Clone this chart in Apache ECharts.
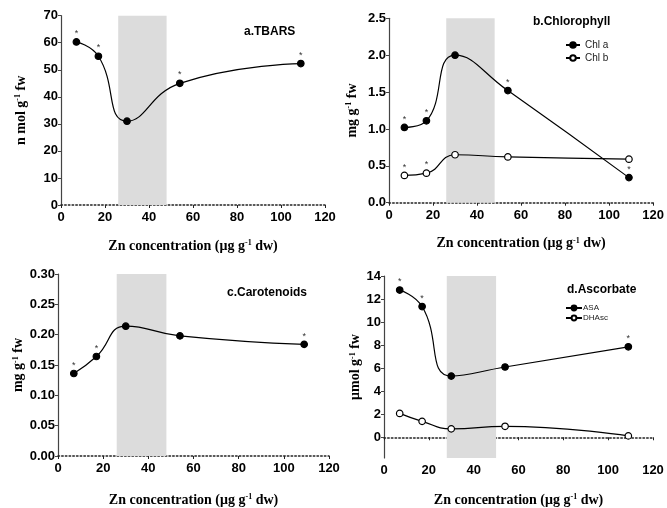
<!DOCTYPE html>
<html>
<head>
<meta charset="utf-8">
<script src="https://cdn.jsdelivr.net/npm/echarts@6/dist/echarts.min.js"></script>
<style>
html,body{margin:0;padding:0;background:#fff;}
#main{width:667px;height:508px;}
</style>
</head>
<body>
<div id="main"></div>
<script>
// Zn concentration in tissue (x of every panel)
var zn = [7, 17, 30, 54, 109];
// a. TBARS
var tbars = [60.3, 55, 31, 45, 52.3];
var tbarsStar = [1, 1, 0, 1, 1];
// b. Chlorophyll
var chlA = [1.02, 1.11, 2.0, 1.52, 0.34];
var chlAStar = [1, 1, 0, 1, 1];
var chlB = [0.37, 0.40, 0.65, 0.62, 0.59];
var chlBStar = [1, 1, 0, 0, 0];
// c. Carotenoids
var carot = [0.136, 0.164, 0.214, 0.198, 0.184];
var carotStar = [1, 1, 0, 0, 1];
// d. Ascorbate
var asa = [12.78, 11.35, 5.31, 6.1, 7.85];
var asaStar = [1, 1, 0, 0, 1];
var dhasc = [2.07, 1.38, 0.73, 0.95, 0.12];
var dhascStar = [0, 0, 0, 0, 0];
// shaded ranges
var bandA = [26, 48];
var bandB = [26, 48];
var bandC = [26, 48];
var bandD = [28, 50];
var ticksD = [0, 2, 4, 6, 8, 10, 12, 14];

function pts(ys){
    var out = [];
    for(var i=0;i<zn.length;i++){ out.push([zn[i], ys[i]]); }
    return out;
}

var chart = echarts.init(document.getElementById('main'));

var sansBold = {fontFamily:'Liberation Sans, Arial, sans-serif', fontWeight:'bold', fontSize:12, color:'#000'};
var tickFont = {fontFamily:'Liberation Sans, Arial, sans-serif', fontWeight:'bold', fontSize:13, color:'#000'};
var axisNameStyle = {
    fontFamily:'Liberation Serif, Times New Roman, serif', fontWeight:'bold', fontSize:14, color:'#000',
    rich:{
        sup:{fontFamily:'Liberation Serif, serif', fontWeight:'bold', fontSize:8, verticalAlign:'top', lineHeight:14, color:'#000'}
    }
};

function xAxisOf(grid, gap){
    return {
        type:'value', gridIndex:grid, min:0, max:120, interval:20,
        name:'Zn concentration (μg g{sup|-1} dw)', nameLocation:'middle', nameGap:gap,
        nameTextStyle:axisNameStyle,
        axisLine:{lineStyle:{color:'#222', width:1.5, type:[1.5, 2.2]}},
        axisTick:{length:3, lineStyle:{color:'#222'}},
        axisLabel:Object.assign({margin:6}, tickFont),
        splitLine:{show:false}
    };
}

function yAxisOf(grid, name, gap, min, max, interval, fmt){
    var ax = {
        type:'value', gridIndex:grid, min:min, max:max, interval:interval,
        name:name, nameLocation:'middle', nameGap:gap,
        nameTextStyle:axisNameStyle,
        axisLine:{show:true, lineStyle:{color:'#444', width:1.2}},
        axisTick:{show:true, length:3, lineStyle:{color:'#444'}},
        axisLabel:Object.assign({margin:3, formatter:fmt}, tickFont),
        splitLine:{show:false}
    };
    return ax;
}

function lineSeries(name, grid, ys, stars, filled, band){
    var s = {
        name:name, type:'line', xAxisIndex:grid, yAxisIndex:grid,
        data:pts(ys), smooth:0.5,
        symbol:'circle', symbolSize:6.5,
        itemStyle:{color: filled ? '#000' : '#fff', borderColor:'#000', borderWidth:1.2},
        lineStyle:{color:'#000', width:1.2},
        label:{
            show:true, position:'top', distance:0,
            fontSize:9, color:'#333',
            formatter:function(p){ return stars[p.dataIndex] ? '*' : ''; }
        },
        z:3
    };
    if(band){
        s.markArea = {
            silent:true,
            itemStyle:{color:'#dcdcdc'},
            data:[[{xAxis:band[0]}, {xAxis:band[1]}]]
        };
    }
    return s;
}

var option = {
    animation:false,
    backgroundColor:'#fff',
    grid:[
        {left:61, right:342, top:15.7, bottom:303},
        {left:389, right:12, top:18.3, bottom:305.3},
        {left:58, right:338, top:274, bottom:47.3},
        {left:384, right:14, top:276, bottom:44.7}
    ],
    title:[
        {text:'a.TBARS', left:244, top:26, textStyle:sansBold, padding:0},
        {text:'b.Chlorophyll', left:533, top:16, textStyle:sansBold, padding:0},
        {text:'c.Carotenoids', left:227, top:287, textStyle:sansBold, padding:0},
        {text:'d.Ascorbate', left:567, top:284, textStyle:sansBold, padding:0}
    ],
    legend:[
        {
            data:['Chl a', 'Chl b'], orient:'vertical', left:565, top:40, padding:0,
            itemWidth:14, itemHeight:7, itemGap:3,
            textStyle:{fontFamily:'Liberation Sans, Arial, sans-serif', fontSize:10, color:'#222'}
        },
        {
            data:['ASA', 'DHAsc'], orient:'vertical', left:565, top:304, padding:0,
            itemWidth:16, itemHeight:6, itemGap:2,
            textStyle:{fontFamily:'Liberation Sans, Arial, sans-serif', fontSize:8, color:'#222', padding:[0,0,0,-4]}
        }
    ],
    xAxis:[xAxisOf(0, 34), xAxisOf(1, 34), xAxisOf(2, 37), xAxisOf(3, 35)],
    yAxis:[
        yAxisOf(0, 'n mol g{sup|-1} fw', 33, 0, 70, 10),
        yAxisOf(1, 'mg g{sup|-1} fw', 30, 0, 2.5, 0.5, function(v){ return v.toFixed(1); }),
        yAxisOf(2, 'mg g{sup|-1} fw', 29, 0, 0.30, 0.05, function(v){ return v.toFixed(2); }),
        (function(){
            var ax = yAxisOf(3, 'μmol g{sup|-1} fw', 20, -1.8, 14, null);
            delete ax.interval;
            ax.axisLabel.customValues = ticksD;
            ax.axisTick.customValues = ticksD;
            return ax;
        })()
    ],
    series:[
        lineSeries('TBARS', 0, tbars, tbarsStar, true, bandA),
        lineSeries('Chl a', 1, chlA, chlAStar, true, bandB),
        lineSeries('Chl b', 1, chlB, chlBStar, false, null),
        lineSeries('Carotenoids', 2, carot, carotStar, true, bandC),
        lineSeries('ASA', 3, asa, asaStar, true, bandD),
        lineSeries('DHAsc', 3, dhasc, dhascStar, false, null)
    ]
};

chart.setOption(option);
</script>
</body>
</html>
